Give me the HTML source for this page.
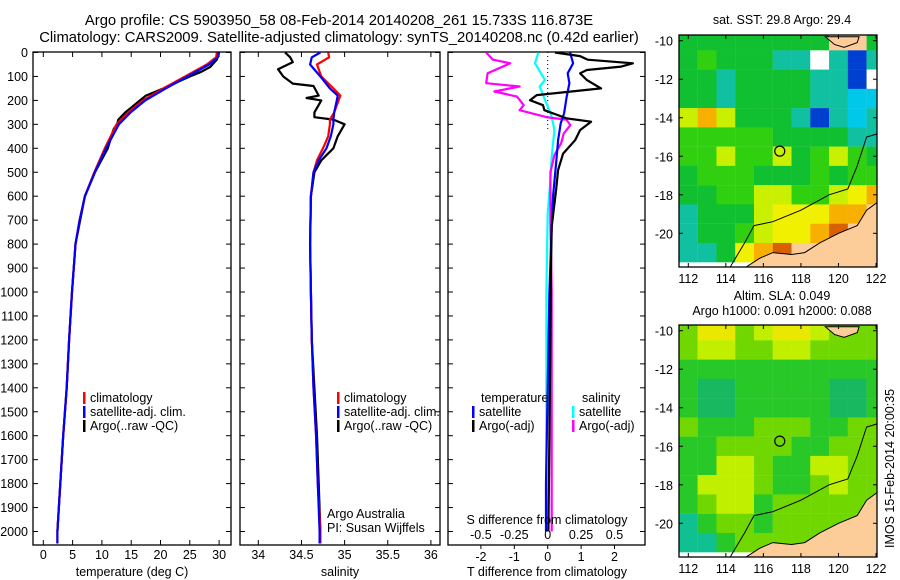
<!DOCTYPE html>
<html><head><meta charset="utf-8">
<style>
html,body{margin:0;padding:0;background:#fff;}
svg{display:block;font-family:"Liberation Sans",sans-serif;}
text{font-size:12.5px;fill:#000;}
.ttl{font-size:14.8px;}
</style></head>
<body>
<svg id="fig" width="900" height="580" viewBox="0 0 900 580" xmlns="http://www.w3.org/2000/svg">
<text class="ttl" x="339" y="25" text-anchor="middle">Argo profile: CS 5903950_58 08-Feb-2014 20140208_261 15.733S 116.873E</text>
<text class="ttl" x="339" y="42" text-anchor="middle">Climatology: CARS2009. Satellite-adjusted climatology: synTS_20140208.nc (0.42d earlier)</text>
<g id="p1"></g>
<g id="p2"></g>
<g id="p3"></g>
<g id="m1"></g>
<g id="m2"></g>
<text x="782" y="24" text-anchor="middle">sat. SST: 29.8 Argo: 29.4</text>
<text x="782" y="300" text-anchor="middle">Altim. SLA: 0.049</text>
<text x="782" y="315" text-anchor="middle">Argo h1000: 0.091 h2000: 0.088</text>
<text transform="translate(894,548) rotate(-90)">IMOS 15-Feb-2014 20:00:35</text>
</svg>
<script>
// ---------- data ----------
const depthClim = [0,20,50,100,150,200,250,300,400,500,600,700,800,1000,1200,1400,1600,1800,2000,2050];
const tempClim  = [29.6,29.5,27.9,24.2,20.5,17,14.5,12.5,10.5,8.7,7.1,6.2,5.5,4.9,4.4,4.0,3.4,2.9,2.4,2.4];
const tempSat   = [29.9,29.8,28.3,24.6,20.9,17.4,14.9,12.9,10.7,8.8,7.1,6.2,5.5,4.9,4.4,4.0,3.4,2.9,2.4,2.4];
const depthArgo = [0,30,60,80,100,150,180,200,250,280,300,320,400,500,600,800,1000,1200,1400,1600,1800,2000];
const tempArgo  = [30,29.6,28.5,27,25,20.5,17.5,16.5,14,12.8,12.6,12.0,11,8.8,7.1,5.5,4.9,4.4,4.0,3.4,2.9,2.4];
const depthSal  = [0,20,50,100,150,180,200,250,280,300,350,400,450,500,600,800,1000,1200,1400,1600,1800,2000,2050];
const salClim   = [34.81,34.82,34.68,34.73,34.87,34.95,34.93,34.88,34.83,34.83,34.81,34.75,34.68,34.64,34.61,34.6,34.61,34.62,34.64,34.67,34.69,34.72,34.72];
const salSat    = [34.72,34.62,34.6,34.72,34.83,34.92,34.91,34.88,34.87,34.87,34.84,34.79,34.7,34.64,34.61,34.6,34.61,34.62,34.64,34.67,34.69,34.71,34.71];
const depthSalArgo = [0,20,40,70,100,130,140,180,190,200,250,270,280,300,350,400,450,500,600,800,1000,1200,1400,1600,1800,2000];
const salArgo   = [34.31,34.37,34.4,34.23,34.29,34.4,34.64,34.7,34.56,34.73,34.65,34.65,34.87,35.0,34.92,34.87,34.73,34.65,34.61,34.6,34.61,34.62,34.65,34.68,34.7,34.72];
const depthDT   = [0,45,87,128,184,254,296,366,463,602,727,1000,1400,1800,2000];
const dTsat     = [0.67,0.76,0.6,0.65,0.57,0.49,0.39,0.31,0.25,0.16,0.12,0.05,0.0,-0.05,-0.05];
const depthDTA  = [0,15,30,45,59,73,87,115,150,178,199,220,241,275,289,324,366,422,491,574,727,900,1200,1600,2000];
const dTargo    = [0.22,0.97,1.2,2.55,2.2,1.17,0.97,1.17,1.6,-0.33,-0.53,-0.14,-0.1,0.57,1.3,0.97,0.82,0.46,0.31,0.25,0.12,0.1,0.08,0.05,0.02];
const depthDS   = [0,30,45,87,128,142,163,184,220,241,271,280,303,338,379,428,500,700,1000,1500,2000];
const dSargo    = [-0.46,-0.41,-0.28,-0.45,-0.46,-0.21,-0.4,-0.23,-0.18,-0.21,0.0,0.14,0.17,0.12,0.1,0.05,0.02,0.02,0.03,0.03,0.03];
const depthDSS  = [0,45,115,142,184,212,268,324,435,532,671,1000,1500,2000];
const dSsat     = [-0.07,-0.095,-0.02,-0.06,-0.03,-0.01,0.03,0.05,0.03,0.02,0.0,-0.01,-0.01,-0.01];
const depthTicks = [0,100,200,300,400,500,600,700,800,900,1000,1100,1200,1300,1400,1500,1600,1700,1800,1900,2000];
const tempTicks = [0,5,10,15,20,25,30];
const salTicks = [34,34.5,35,35.5,36];
const dTTicks = [-2,-1,0,1,2];
const dSTicks = [-0.5,-0.25,0,0.25,0.5];
const lonTicks = [112,114,116,118,120,122];
const latTicks = [-10,-12,-14,-16,-18,-20];
// map cells: rows lat -10..-21, cols lon 112..122
const sstRows = ["GGGGGGGGPPG","GLGGGTTWTBT","GGTGGGGTTBW","GGTGGGGTTCC","YOYGGGTBTCT","LLLLLGGGGTT","LLYLLYGLYLG","GLLLGGGLGLL","GGLLYYLLYyO","TGGGYyyyOOP","TGGLYyyORPP","TTGyORPPPPP"];
const slaRows = ["LyyLYyyYLLL","LYYLLYYLLLL","GGGGGGGGGGG","GggGGGGGggG","GggGGGGGggG","LGGGLLLGGLL","GGLLLLGGLLL","GGYYLGGYYLL","GYYYLGGLYLL","GLYYGLLLLLL","TGLLGLLLLLL","TTGLLLLLLLL"];
const argoLon = 116.873, argoLat = -15.733;

// ---------- helpers ----------
const NS = "http://www.w3.org/2000/svg";
function mk(parent, tag, attrs, txt){ const e=document.createElementNS(NS,tag); for(const k in attrs) e.setAttribute(k,attrs[k]); if(txt!==undefined) e.textContent=txt; parent.appendChild(e); return e; }
const Y0 = 52.5, YS = 0.2395, BOT = 545, TOP = 52;
const yD = d => Y0 + d*YS;

function frame(g, l, r){
  const f = mk(g,'rect',{x:l,y:TOP,width:r-l,height:BOT-TOP,fill:'none',stroke:'#000','stroke-width':1.3});
  
  
  depthTicks.forEach(d=>{
    mk(g,'line',{x1:l,x2:l+5,y1:yD(d),y2:yD(d),stroke:'#000'});
    mk(g,'line',{x1:r-5,x2:r,y1:yD(d),y2:yD(d),stroke:'#000'});
  });
}
function xticks(g, vals, xf, ly){
  vals.forEach(v=>{
    const x = xf(v);
    mk(g,'line',{x1:x,x2:x,y1:BOT,y2:BOT-5,stroke:'#000'});
    mk(g,'line',{x1:x,x2:x,y1:TOP,y2:TOP+5,stroke:'#000'});
    const t = mk(g,'text',{x:x,y:ly,'text-anchor':'middle'}, String(v));
    
    
  });
}
function line(g, xs, ds, xf, color, name, w){
  const pts = xs.map((v,i)=>xf(v).toFixed(1)+','+yD(ds[i]).toFixed(1)).join(' ');
  const p = mk(g,'polyline',{points:pts,fill:'none',stroke:color,'stroke-width':w||2.2,'stroke-linejoin':'round'});
  
  
}
function legend(g, x, y, color, label){
  mk(g,'rect',{x:x,y:y-10,width:2.5,height:12,fill:color});
  const t = mk(g,'text',{x:x+7,y:y},label);
  
  
}

// ---------- panel 1 ----------
const p1 = document.getElementById('p1');
const xT = v => 43.3 + v*5.86;
frame(p1,33,231);
depthTicks.forEach(d=>{
  const t = mk(p1,'text',{x:28,y:yD(d)+4.5,'text-anchor':'end'},String(d));
  
  
});
xticks(p1,tempTicks,xT,559);
mk(p1,'text',{x:132,y:576,'text-anchor':'middle'},'temperature (deg C)');
line(p1,tempArgo,depthArgo,xT,'#000','argo-temperature-line');
line(p1,tempClim,depthClim,xT,'#f00','climatology-temperature-line');
line(p1,tempSat,depthClim,xT,'#00f','satellite-temperature-line');
legend(p1,83,402,'#f00','climatology');
legend(p1,83,416,'#00f','satellite-adj. clim.');
legend(p1,83,430,'#000','Argo(..raw -QC)');

// ---------- panel 2 ----------
const p2 = document.getElementById('p2');
const xS = v => 258.3 + (v-34)*86.3;
frame(p2,240,440);
xticks(p2,salTicks,xS,559);
mk(p2,'text',{x:340,y:576,'text-anchor':'middle'},'salinity');
line(p2,salArgo,depthSalArgo,xS,'#000','argo-salinity-line');
line(p2,salClim,depthSal,xS,'#f00','climatology-salinity-line');
line(p2,salSat,depthSal,xS,'#00f','satellite-salinity-line');
legend(p2,337,402,'#f00','climatology');
legend(p2,337,416,'#00f','satellite-adj. clim.');
legend(p2,337,430,'#000','Argo(..raw -QC)');
mk(p2,'text',{x:327,y:518},'Argo Australia');
mk(p2,'text',{x:327,y:532},'PI: Susan Wijffels');

// ---------- panel 3 ----------
const p3 = document.getElementById('p3');
const xDT = v => 547.7 + v*33.4;
const xDS = v => 547.7 + v*133.6;
frame(p3,448,645);
mk(p3,'line',{x1:xDT(0),x2:xDT(0),y1:TOP,y2:yD(320),stroke:'#000','stroke-dasharray':'1,3'});
line(p3,dSsat,depthDSS,xDS,'#0ff','satellite-salinity-diff-line');
line(p3,dSargo,depthDS,xDS,'#f0f','argo-salinity-diff-line');
line(p3,dTsat,depthDT,xDT,'#00f','satellite-temperature-diff-line');
line(p3,dTargo,depthDTA,xDT,'#000','argo-temperature-diff-line');
dTTicks.forEach(v=>{
  const x=xDT(v);
  mk(p3,'line',{x1:x,x2:x,y1:BOT,y2:BOT+4,stroke:'#000'});
  const t=mk(p3,'text',{x:x,y:561,'text-anchor':'middle'},String(v));
  
  
});
dSTicks.forEach(v=>{
  const x=xDS(v);
  const t=mk(p3,'text',{x:x,y:539,'text-anchor':'middle'},String(v));
  
  
});
mk(p3,'text',{x:547,y:524,'text-anchor':'middle'},'S difference from climatology');
mk(p3,'text',{x:547,y:576,'text-anchor':'middle'},'T difference from climatology');
mk(p3,'text',{x:481,y:402},'temperature');
mk(p3,'text',{x:582,y:402},'salinity');
legend(p3,472,416,'#00f','satellite');
legend(p3,472,430,'#000','Argo(-adj)');
legend(p3,572,416,'#0ff','satellite');
legend(p3,572,430,'#f0f','Argo(-adj)');

// ---------- maps ----------
const COLORS1 = {G:'#10c030',L:'#30d010',T:'#10c0a0',C:'#00c8e8',B:'#0040d0',Y:'#c8f000',y:'#f0f000',O:'#f8b000',R:'#d86000',W:'#ffffff',P:'#fccc99',g:'#10b060'};
const COLORS2 = {G:'#28c828',L:'#70d800',T:'#10c090',Y:'#c0f000',y:'#e8e800',P:'#fccc99',g:'#18b860'};
const land = [[115.0,-21.8],[115.8,-21.3],[116.5,-21.0],[117.5,-21.1],[118.2,-21.0],[119.0,-20.5],[120.0,-20.0],[121.0,-19.6],[121.5,-18.8],[122.2,-18.3],[122.2,-21.8]];
const landTop = [[119.3,-9.8],[119.8,-10.2],[120.3,-10.35],[121.0,-10.1],[121.1,-9.8]];
const shelf = [[114.2,-21.8],[115.0,-20.5],[115.5,-19.6],[116.5,-19.4],[118,-18.8],[119.5,-18],[120.5,-17.7],[121,-16.5],[121.5,-15],[122.2,-14.8]];
function drawMap(id, top, rows, COLORS){
  const g = document.getElementById(id);
  const L=679, R=877, B=top+232;
  const xm = lon => 688.3 + (lon-112)*18.77;
  const ym = lat => top+5.7 + (-10-lat)*19.26;
  const clipId = id+'clip';
  const cp = mk(mk(g,'defs',{}),'clipPath',{id:clipId});
  mk(cp,'rect',{x:L,y:top,width:R-L,height:B-top});
  const inner = mk(g,'g',{'clip-path':'url(#'+clipId+')'});
  rows.forEach((row,ri)=>{
    const lat = -10-ri;
    [...row].forEach((c,ci)=>{
      const lon = 112+ci;
      const r = mk(inner,'rect',{x:xm(lon-0.5),y:ym(lat+0.5),width:18.9,height:19.4,fill:COLORS[c]});
      
      
    });
  });
  const pt = a => a.map(p=>xm(p[0]).toFixed(1)+','+ym(p[1]).toFixed(1)).join(' ');
  mk(inner,'polygon',{points:pt(land),fill:'#fccc99',stroke:'#000','stroke-width':1});
  mk(inner,'polygon',{points:pt(landTop),fill:'#fccc99',stroke:'#000','stroke-width':1});
  mk(inner,'polyline',{points:pt(shelf),fill:'none',stroke:'#000','stroke-width':1});
  const c = mk(g,'circle',{cx:xm(argoLon),cy:ym(argoLat),r:5,fill:'none',stroke:'#000','stroke-width':1.2});
  
  
  mk(g,'rect',{x:L,y:top,width:R-L,height:B-top,fill:'none',stroke:'#000','stroke-width':1.3});
  latTicks.forEach(v=>{
    mk(g,'line',{x1:L,x2:L+4,y1:ym(v),y2:ym(v),stroke:'#000'});
    mk(g,'line',{x1:R-4,x2:R,y1:ym(v),y2:ym(v),stroke:'#000'});
    const t=mk(g,'text',{x:L-6,y:ym(v)+5,'text-anchor':'end'},String(v));
    
    
  });
  lonTicks.forEach(v=>{
    mk(g,'line',{x1:xm(v),x2:xm(v),y1:B,y2:B-4,stroke:'#000'});
    mk(g,'line',{x1:xm(v),x2:xm(v),y1:top,y2:top+4,stroke:'#000'});
    const t=mk(g,'text',{x:xm(v),y:B+16,'text-anchor':'middle'},String(v));
    
    
  });
}
drawMap('m1',35,sstRows,COLORS1);
drawMap('m2',325,slaRows,COLORS2);
</script>
</body></html>
